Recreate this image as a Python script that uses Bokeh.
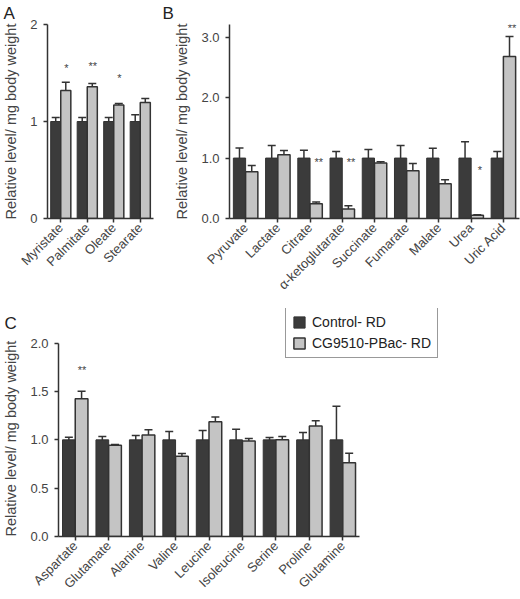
import math
from bokeh.plotting import figure
from bokeh.models import (Range1d, Whisker, TeeHead, FixedTicker, CustomJSTickFormatter,
                          PrintfTickFormatter, Legend, LegendItem, ColumnDataSource)
from bokeh.transform import dodge
from bokeh.layouts import column, row
from bokeh.embed import file_html
from bokeh.resources import INLINE
from bokeh.core.properties import value

# ---------------- data ----------------
series_names = ["Control- RD", "CG9510-PBac- RD"]
y_label = "Relative level/ mg body weight"

fa_cats = ["Myristate", "Palmitate", "Oleate", "Stearate"]
fa_ctrl = [1.0, 1.0, 1.0, 1.0]
fa_ctrl_err = [0.04, 0.04, 0.04, 0.07]
fa_mut = [1.32, 1.357, 1.17, 1.197]
fa_mut_err = [0.085, 0.035, 0.015, 0.04]
fa_sig = ["*", "**", "*", ""]
fa_sig_y = [1.55, 1.57, 1.45, 0.0]
fa_yticks = [0, 1, 2]

org_cats = ["Pyruvate", "Lactate", "Citrate", "\u03b1-ketoglutarate", "Succinate",
            "Fumarate", "Malate", "Urea", "Uric Acid"]
org_ctrl = [1.0, 1.0, 1.0, 1.0, 1.0, 1.0, 1.0, 1.0, 1.0]
org_ctrl_err = [0.165, 0.207, 0.13, 0.11, 0.14, 0.207, 0.164, 0.27, 0.11]
org_mut = [0.775, 1.054, 0.245, 0.157, 0.918, 0.79, 0.573, 0.054, 2.68]
org_mut_err = [0.10, 0.07, 0.03, 0.055, 0.02, 0.12, 0.07, 0.01, 0.33]
org_sig = ["", "", "**", "**", "", "", "", "*", "**"]
org_sig_y = [0, 0, 0.94, 0.94, 0, 0, 0, 0.81, 3.15]
org_yticks = [0.0, 1.0, 2.0, 3.0]

aa_cats = ["Aspartate", "Glutamate", "Alanine", "Valine", "Leucine", "Isoleucine",
           "Serine", "Proline", "Glutamine"]
aa_ctrl = [1.0, 1.0, 1.0, 1.0, 1.0, 1.0, 1.0, 1.0, 1.0]
aa_ctrl_err = [0.027, 0.034, 0.045, 0.087, 0.097, 0.11, 0.024, 0.077, 0.348]
aa_mut = [1.424, 0.943, 1.05, 0.83, 1.187, 0.988, 1.0, 1.142, 0.762]
aa_mut_err = [0.08, 0.01, 0.055, 0.03, 0.05, 0.025, 0.035, 0.055, 0.10]
aa_sig = ["**", "", "", "", "", "", "", "", ""]
aa_sig_y = [1.72, 0, 0, 0, 0, 0, 0, 0, 0]
aa_yticks = [0.0, 0.5, 1.0, 1.5, 2.0]

# ---------------- style ----------------
FONT = "Liberation Sans"
DARK = "#3b3b3b"
LIGHT = "#c4c4c4"
EDGE = "#333333"
TXT = "#444444"
BW = 0.38


def panel(letter, cats, ctrl, ctrl_err, mut, mut_err, sig, sig_y, sig_dx,
          yticks, fmt, ymax, yaxis_max, xmax, width, height, bl, br, bt, bb, t_off, t_stand,
          label_pad=0):
    n = len(cats)
    p = figure(x_range=Range1d(0, xmax), y_range=Range1d(0, ymax), width=width, height=height,
               output_backend="svg", toolbar_location=None,
               min_border_left=bl, min_border_right=br, min_border_top=bt,
               min_border_bottom=bb)
    xc = [i + 0.5 for i in range(n)]
    src = ColumnDataSource(dict(
        xc=xc, ctrl=ctrl, mut=mut,
        c_lo=[v - e for v, e in zip(ctrl, ctrl_err)],
        c_hi=[v + e for v, e in zip(ctrl, ctrl_err)],
        m_lo=[v - e for v, e in zip(mut, mut_err)],
        m_hi=[v + e for v, e in zip(mut, mut_err)],
    ))
    r1 = p.vbar(x=dodge("xc", -BW / 2), top="ctrl", width=BW, source=src,
                fill_color=DARK, line_color=EDGE, line_width=1)
    r2 = p.vbar(x=dodge("xc", BW / 2), top="mut", width=BW, source=src,
                fill_color=LIGHT, line_color=EDGE, line_width=1.5)
    for off, lo, hi in ((-BW / 2, "c_lo", "c_hi"), (BW / 2, "m_lo", "m_hi")):
        w = Whisker(base=dodge("xc", off), lower=lo, upper=hi, source=src,
                    line_color=EDGE, line_width=1.5,
                    upper_head=TeeHead(size=8, line_color=EDGE, line_width=1.5),
                    lower_head=TeeHead(size=8, line_color=EDGE, line_width=1.5))
        p.add_layout(w)
    sx = [x for x, s in zip(xc, sig) if s]
    ss = [s for s in sig if s]
    sy = [y for y, s in zip(sig_y, sig) if s]
    ssrc = ColumnDataSource(dict(xc=sx, s=ss, y=sy))
    p.text(x=dodge("xc", sig_dx), y="y", text="s", source=ssrc,
           text_font=value(FONT), text_font_size="11px", text_color=TXT,
           text_align="center", text_baseline="middle")

    p.grid.visible = False
    p.outline_line_color = None
    p.background_fill_color = "white"
    p.border_fill_color = "white"
    for ax in (p.xaxis[0], p.yaxis[0]):
        ax.axis_line_color = EDGE
        ax.axis_line_width = 1.5
        ax.major_tick_line_color = EDGE
        ax.major_tick_line_width = 1.5
        ax.major_tick_out = 4
        ax.major_tick_in = 0
        ax.minor_tick_line_color = None
        ax.major_label_text_font = FONT
        ax.major_label_text_font_size = "13px"
        ax.major_label_text_color = TXT
    p.xaxis.bounds = (0, n)
    p.xaxis.ticker = FixedTicker(ticks=xc)
    p.xaxis.formatter = CustomJSTickFormatter(args=dict(names=cats),
                                              code="return names[Math.floor(tick)];")
    p.xaxis.major_label_standoff = 3
    p.xaxis.major_label_orientation = math.pi / 4
    p.yaxis.bounds = (0, yaxis_max)
    p.yaxis.major_label_standoff = 6
    p.yaxis.ticker = FixedTicker(ticks=yticks)
    p.yaxis.formatter = PrintfTickFormatter(format=fmt)
    p.yaxis.axis_label = y_label + "\u00a0" * label_pad
    p.yaxis.axis_label_text_font = FONT
    p.yaxis.axis_label_text_font_size = "14.5px"
    p.yaxis.axis_label_text_font_style = "normal"
    p.yaxis.axis_label_text_color = TXT
    p.yaxis.axis_label_standoff = 8
    p.title.text = letter
    p.title.text_font = FONT
    p.title.text_font_size = "17px"
    p.title.text_font_style = "normal"
    p.title.text_color = "#222222"
    p.title.align = "left"
    p.title.offset = t_off
    p.title.standoff = t_stand
    return p, r1, r2


pA, _, _ = panel("A", fa_cats, fa_ctrl, fa_ctrl_err, fa_mut, fa_mut_err, fa_sig, fa_sig_y, 0.21,
                 fa_yticks, "%d", 2.0, 2.0, 4, 160, 300, 42, 7, 24, 81, -44, 3)
pB, _, _ = panel("B", org_cats, org_ctrl, org_ctrl_err, org_mut, org_mut_err, org_sig, org_sig_y, 0.27,
                 org_yticks, "%.1f", 3.21, 3.21, 9, 360, 300, 69, 1, 24, 81, -67, 3)
pC, rc1, rc2 = panel("C", aa_cats, aa_ctrl, aa_ctrl_err, aa_mut, aa_mut_err, aa_sig, aa_sig_y, 0.2,
                     aa_yticks, "%.1f", 2.359, 2.0, 11.6, 520, 299, 53, 74, 8, 61, -54, -48,
                     label_pad=8)

legend = Legend(items=[LegendItem(label=series_names[0], renderers=[rc1]),
                       LegendItem(label=series_names[1], renderers=[rc2])],
                location=(227, 178), orientation="vertical",
                label_text_font=FONT, label_text_font_size="14px", label_text_color="#222222",
                glyph_width=14, glyph_height=14, label_height=14, spacing=5, padding=6,
                label_standoff=6, margin=0,
                border_line_color=EDGE, border_line_width=1.5, background_fill_alpha=1)
pC.add_layout(legend)

layout = column(row(pA, pB), pC)
open("out.html", "w").write(file_html(layout, INLINE))
